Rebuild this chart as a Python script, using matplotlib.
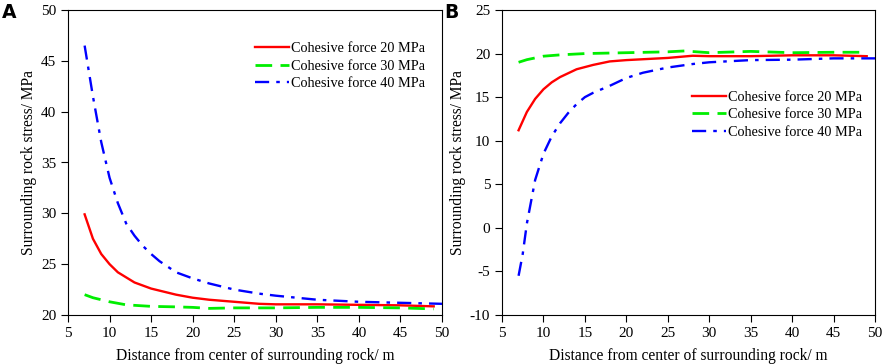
import matplotlib
matplotlib.use("Agg")
import matplotlib.pyplot as plt

# panel A data
xa_red = [7, 8, 9, 10, 11, 12, 13, 14, 15, 16, 18, 20, 22, 25, 28, 30, 35, 40, 45, 49]
ya_red = [29.9, 27.5, 26.0, 25.0, 24.2, 23.7, 23.2, 22.9, 22.6, 22.4, 22.0, 21.7, 21.5, 21.3,
          21.1, 21.05, 21.05, 21.0, 20.95, 20.85]
xa_green = [7, 8, 10, 12, 15, 18, 20, 22, 25, 30, 35, 40, 45, 49]
ya_green = [22.0, 21.7, 21.3, 21.0, 20.85, 20.8, 20.75, 20.65, 20.7, 20.7, 20.75, 20.75, 20.7, 20.6]
xa_blue = [7, 8, 9, 10, 11, 12, 13, 14, 15, 16, 18, 20, 22, 25, 28, 30, 35, 40, 45, 50]
ya_blue = [46.5, 41.5, 37.0, 33.5, 31.0, 29.0, 27.8, 26.8, 26.0, 25.3, 24.2, 23.6, 23.1, 22.5,
           22.1, 21.9, 21.5, 21.3, 21.2, 21.1]

# panel B data
xb_red = [7, 8, 9, 10, 11, 12, 14, 16, 18, 20, 25, 28, 30, 35, 40, 45, 49]
yb_red = [11.2, 13.3, 14.8, 15.9, 16.7, 17.3, 18.2, 18.7, 19.1, 19.25, 19.5, 19.75, 19.7, 19.7,
          19.8, 19.8, 19.7]
xb_green = [7, 8, 10, 12, 15, 20, 25, 27, 30, 35, 40, 45, 49]
yb_green = [19.0, 19.3, 19.7, 19.85, 20.0, 20.1, 20.2, 20.3, 20.1, 20.25, 20.1, 20.15, 20.15]
xb_blue = [7, 7.5, 8, 8.5, 9, 10, 11, 12, 13, 14, 15, 16, 18, 20, 22, 25, 28, 30, 35, 40, 45, 50]
yb_blue = [-5.5, -3.0, 0.5, 3.0, 5.5, 8.5, 10.5, 12.0, 13.2, 14.2, 15.0, 15.5, 16.3, 17.2, 17.8,
           18.4, 18.8, 19.0, 19.25, 19.3, 19.45, 19.45]

labels = ["Cohesive force 20 MPa", "Cohesive force 30 MPa", "Cohesive force 40 MPa"]

plt.rcParams['font.family'] = ['Liberation Serif', 'DejaVu Serif']
plt.rcParams['axes.unicode_minus'] = False

fig = plt.figure(figsize=(8.86, 3.64), dpi=100)
axA = fig.add_axes([68/886, 1 - 315/364, 374/886, 305/364])
axB = fig.add_axes([502/886, 1 - 315/364, 373/886, 305/364])


def draw(ax, xr, yr, xg, yg, xb, yb):
    ax.plot(xr, yr, color='#ff0000', lw=1.7, ls='-', label=labels[0])
    ax.plot(xg, yg, color='#00ee00', lw=2.0, ls=(0, (6, 3)), label=labels[1])
    ax.plot(xb, yb, color='#0000ff', lw=1.7, ls=(0, (6, 3, 1.5, 3)), label=labels[2])
    ax.set_xlim(5, 50)
    ax.set_xticks(range(5, 51, 5))
    ax.tick_params(direction='out', length=5, labelsize=11, top=False, right=False)
    ax.set_xlabel('Distance from center of surrounding rock/ m', fontsize=11.2, labelpad=6)
    ax.set_ylabel('Surrounding rock stress/ MPa', fontsize=11.2, labelpad=3)


draw(axA, xa_red, ya_red, xa_green, ya_green, xa_blue, ya_blue)
axA.set_ylim(20, 50)
axA.set_yticks(range(20, 51, 5))
axA.legend(loc='upper right', bbox_to_anchor=(0.988, 0.936), frameon=False, fontsize=10.3,
           handlelength=2.4, handletextpad=0.1, labelspacing=0.3)

draw(axB, xb_red, yb_red, xb_green, yb_green, xb_blue, yb_blue)
axB.set_ylim(-10, 25)
axB.set_yticks(range(-10, 26, 5))
axB.legend(loc='upper right', bbox_to_anchor=(0.999, 0.777), frameon=False, fontsize=10.3,
           handlelength=2.4, handletextpad=0.1, labelspacing=0.3)

fig.text(2/886, 1 - 12/364, 'A', fontsize=13.5, fontweight='bold', family='DejaVu Sans', va='center')
fig.text(444/886, 1 - 12/364, 'B', fontsize=13.5, fontweight='bold', family='DejaVu Sans', va='center')

fig.savefig('out.png', dpi=100)
